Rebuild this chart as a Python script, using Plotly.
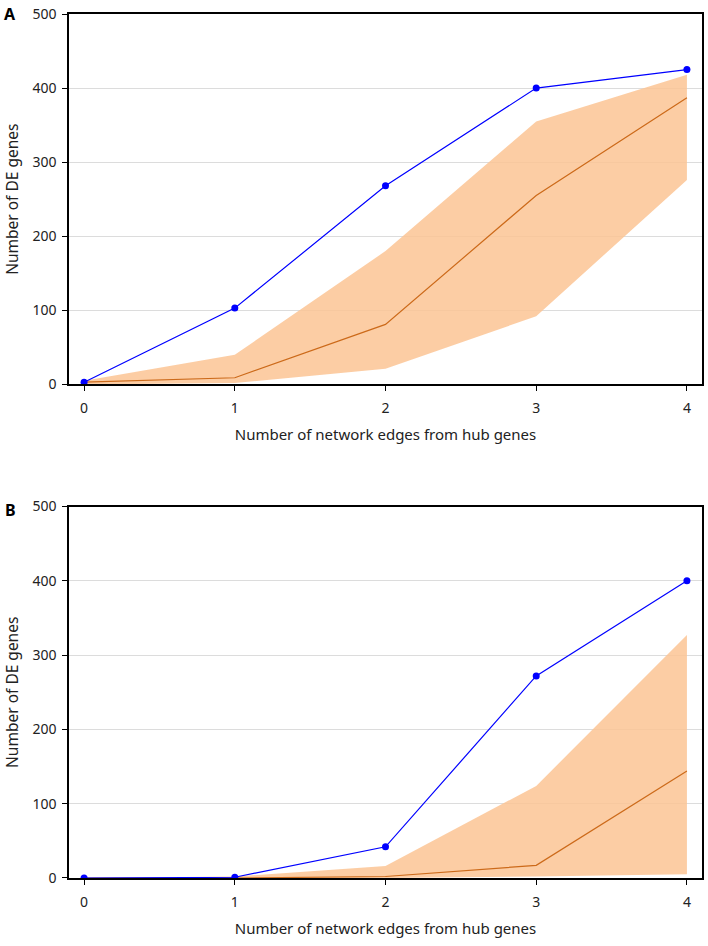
import plotly.graph_objects as go
from plotly.subplots import make_subplots

edges = [0, 1, 2, 3, 4]

# panel A
a_observed = [3, 103, 268, 400, 425]
a_median = [3, 9, 81, 255, 387]
a_upper = [5, 40, 180, 355, 418]
a_lower = [0, 2, 21, 92, 276]

# panel B
b_observed = [0, 1, 42, 272, 400]
b_median = [0, 0, 2, 17, 144]
b_upper = [0, 2, 16, 124, 327]
b_lower = [0, 0, 0, 2, 5]

y_ticks = [0, 100, 200, 300, 400, 500]

blue = "#0000ff"
orange = "#cc6a1a"
band = "rgba(252,196,148,0.85)"

fig = make_subplots(rows=2, cols=1)

panels = [(1, a_observed, a_median, a_upper, a_lower),
          (2, b_observed, b_median, b_upper, b_lower)]

for row, obs, med, up, lo in panels:
    fig.add_trace(go.Scatter(x=edges, y=lo, mode="lines", line=dict(width=0),
                             showlegend=False, hoverinfo="skip"), row=row, col=1)
    fig.add_trace(go.Scatter(x=edges, y=up, mode="lines", line=dict(width=0),
                             fill="tonexty", fillcolor=band,
                             showlegend=False, hoverinfo="skip"), row=row, col=1)
    fig.add_trace(go.Scatter(x=edges, y=med, mode="lines",
                             line=dict(color=orange, width=1.2),
                             showlegend=False), row=row, col=1)
    fig.add_trace(go.Scatter(x=edges, y=obs, mode="lines+markers",
                             line=dict(color=blue, width=1.2),
                             marker=dict(color=blue, size=7),
                             showlegend=False), row=row, col=1)

font = "Noto Sans"
axis_common = dict(showline=True, mirror=True, linecolor="black", linewidth=1.5,
                   ticks="outside", ticklen=5, tickcolor="black",
                   tickfont=dict(size=14, color="#222", family=font))

fig.update_xaxes(range=[-0.1, 4.1], tickvals=edges, showgrid=False, zeroline=False,
                 ticklabelstandoff=5,
                 title=dict(text="Number of network edges from hub genes",
                            font=dict(size=15, color="#222", family=font), standoff=14),
                 **axis_common)
fig.update_yaxes(range=[0, 500], tickvals=y_ticks, showgrid=True, gridcolor="#dcdcdc",
                 zeroline=False, ticklabelstandoff=3,
                 title=dict(text="Number of DE genes",
                            font=dict(size=15.5, color="#222", family=font), standoff=10),
                 **axis_common)

fig.update_layout(
    width=708, height=946,
    margin=dict(l=69, r=4, t=8, b=68),
    plot_bgcolor="white", paper_bgcolor="white",
    yaxis=dict(domain=[0.5713, 1.0]),
    yaxis2=dict(domain=[0.0, 0.4299]),
    annotations=[
        dict(text="<b>A</b>", x=-0.093, y=1.0, xref="paper", yref="paper",
             xanchor="center", yanchor="middle", showarrow=False,
             font=dict(size=16, color="black", family=font)),
        dict(text="<b>B</b>", x=-0.093, y=0.4265, xref="paper", yref="paper",
             xanchor="center", yanchor="middle", showarrow=False,
             font=dict(size=16, color="black", family=font)),
    ],
)

fig.write_html("out.html", config={"displayModeBar": False},
               post_script="document.body.style.margin='0px';")
